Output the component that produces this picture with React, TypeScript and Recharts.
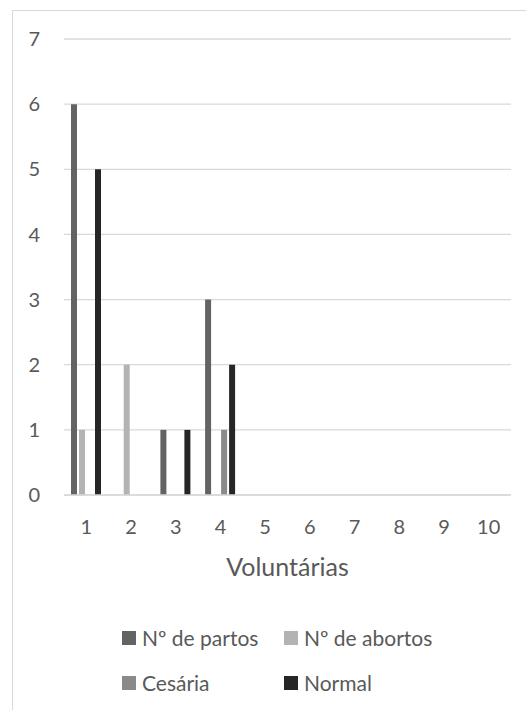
import { BarChart, Bar, XAxis, YAxis, CartesianGrid, Legend } from "recharts";

const voluntarias = ["1", "2", "3", "4", "5", "6", "7", "8", "9", "10"];
const partos = [6, 0, 1, 3, 0, 0, 0, 0, 0, 0];
const abortos = [1, 2, 0, 0, 0, 0, 0, 0, 0, 0];
const cesaria = [0, 0, 0, 1, 0, 0, 0, 0, 0, 0];
const normal = [5, 0, 1, 2, 0, 0, 0, 0, 0, 0];
const yTicks = [0, 1, 2, 3, 4, 5, 6, 7];

const SERIES = [
  { key: "partos", name: "Nº de partos", color: "#636363" },
  { key: "abortos", name: "Nº de abortos", color: "#b3b3b3" },
  { key: "cesaria", name: "Cesária", color: "#8a8a8a" },
  { key: "normal", name: "Normal", color: "#262626" },
];

const data = voluntarias.map((v, i) => ({
  v,
  partos: partos[i],
  abortos: abortos[i],
  cesaria: cesaria[i],
  normal: normal[i],
}));

const FONT = "Lato, 'Open Sans', sans-serif";
const TEXT = "#595959";

function LegendGrid() {
  return (
    <div
      style={{
        height: 110,
        paddingTop: 15,
        paddingLeft: 122,
        boxSizing: "border-box",
        display: "grid",
        gridTemplateColumns: "162px 162px",
        gridAutoRows: "45px",
        fontFamily: FONT,
        fontSize: 21,
        color: TEXT,
      }}
    >
      {SERIES.map((s) => (
        <div key={s.key} style={{ display: "flex", alignItems: "center", height: 45 }}>
          <span style={{ width: 14, height: 14, background: s.color, marginRight: 6, flex: "none" }} />
          <span style={{ whiteSpace: "nowrap" }}>{s.name}</span>
        </div>
      ))}
    </div>
  );
}

export default function App() {
  return (
    <div style={{ position: "absolute", left: 0, top: 0, width: 526, height: 710, background: "#fff" }}>
      <div
        style={{
          position: "absolute",
          left: 12,
          top: 10,
          width: 514,
          height: 700,
          borderLeft: "1px solid #d9d9d9",
          borderTop: "1px solid #d9d9d9",
        }}
      />
      <BarChart
        width={526}
        height={710}
        data={data}
        margin={{ top: 39, right: 15, bottom: 0, left: 0 }}
        barSize={6}
        barGap={2}
        style={{ position: "absolute", left: 0, top: 0 }}
      >
        <CartesianGrid vertical={false} stroke="#d9d9d9" strokeWidth={1.3} />
        <XAxis
          dataKey="v"
          height={105}
          tickLine={false}
          tickSize={0}
          tickMargin={25}
          axisLine={{ stroke: "#d9d9d9", strokeWidth: 1.3 }}
          tick={{ fontSize: 20, fill: TEXT, fontFamily: FONT }}
          label={{
            value: "Voluntárias",
            position: "insideBottom",
            offset: 24,
            fontSize: 25,
            fill: TEXT,
            fontFamily: FONT,
          }}
        />
        <YAxis
          width={64}
          domain={[0, 7]}
          ticks={yTicks}
          axisLine={false}
          tickLine={false}
          tickSize={0}
          tickMargin={24}
          tick={{ fontSize: 20, fill: TEXT, fontFamily: FONT }}
        />
        <Legend
          verticalAlign="bottom"
          height={110}
          content={() => <LegendGrid />}
          wrapperStyle={{ left: 0, width: 526 }}
        />
        {SERIES.map((s) => (
          <Bar key={s.key} dataKey={s.key} name={s.name} fill={s.color} isAnimationActive={false} />
        ))}
      </BarChart>
    </div>
  );
}
